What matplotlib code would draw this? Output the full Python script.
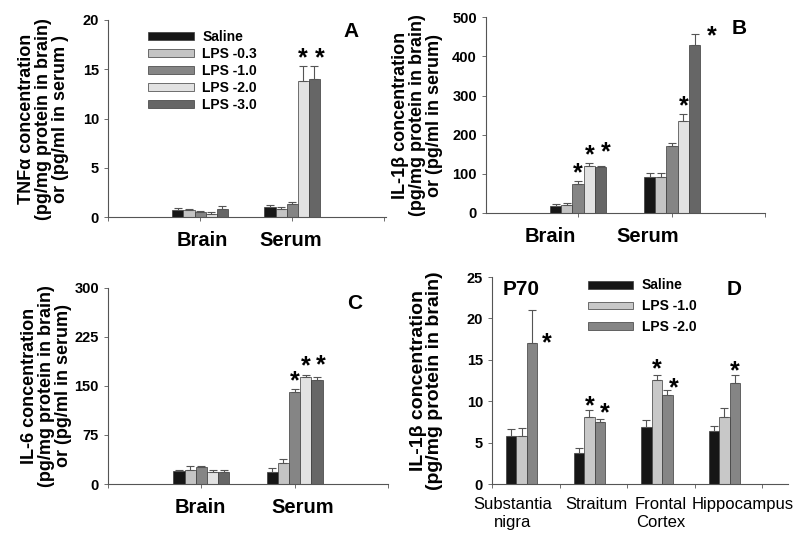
import numpy as np
import matplotlib
matplotlib.use("Agg")
import matplotlib.pyplot as plt

plt.rcParams['font.family'] = ['Liberation Sans', 'DejaVu Sans']
plt.rcParams['font.weight'] = 'bold'

# Dados
groups_abc = ['Brain', 'Serum']
series_abc = ['Saline', 'LPS -0.3', 'LPS -1.0', 'LPS -2.0', 'LPS -3.0']
colors_abc = ['#161616', '#c4c4c4', '#858585', '#e2e2e2', '#666666']

tnf_mean = [[0.75, 1.05], [0.7, 0.85], [0.5, 1.3], [0.35, 13.8], [0.85, 14.0]]
tnf_err = [[0.15, 0.15], [0.15, 0.15], [0.15, 0.2], [0.15, 1.5], [0.3, 1.3]]
tnf_star = [[0, 0], [0, 0], [0, 0], [0, 1], [0, 1]]

il1_mean = [[17, 92], [20, 93], [75, 172], [120, 235], [117, 428]]
il1_err = [[5, 10], [5, 9], [6, 6], [7, 18], [4, 28]]
il1_star = [[0, 0], [0, 0], [1, 0], [1, 1], [1, 1]]

il6_mean = [[20, 19], [22, 32], [26, 141], [19, 163], [19, 159]]
il6_err = [[2, 6], [5, 7], [2, 4], [3, 4], [2, 4]]
il6_star = [[0, 0], [0, 0], [0, 1], [0, 1], [0, 1]]

regions_d = ['Substantia\nnigra', 'Straitum', 'Frontal\nCortex', 'Hippocampus']
series_d = ['Saline', 'LPS -1.0', 'LPS -2.0']
colors_d = ['#161616', '#c8c8c8', '#858585']
p70_mean = [[5.8, 3.8, 6.9, 6.4], [5.8, 8.1, 12.6, 8.1], [17.0, 7.5, 10.8, 12.2]]
p70_err = [[0.8, 0.6, 0.8, 0.6], [1.0, 0.9, 0.6, 1.1], [4.0, 0.4, 0.6, 1.0]]
p70_star = [[0, 0, 0, 0], [0, 1, 1, 0], [1, 1, 1, 1]]

fig = plt.figure(figsize=(8, 5.39), dpi=100)


def draw_bars(ax, centers, means, errs, stars, colors, labels, width, star_off):
    n = len(means)
    for i in range(n):
        x = centers + (i - (n - 1) / 2) * width
        m = np.array(means[i], dtype=float)
        e = np.array(errs[i], dtype=float)
        ax.bar(x, m, width, color=colors[i], edgecolor='#3a3a3a', linewidth=0.5,
               label=labels[i], zorder=2)
        ax.errorbar(x, m, yerr=[np.zeros_like(e), e], fmt='none', ecolor='#555555',
                    elinewidth=0.8, capsize=3, capthick=0.8, zorder=3)
        for j in range(len(m)):
            if stars[i][j]:
                dx, dy = star_off.get((i, j), (0, 15))
                # dy = distancia (px) do centro do asterisco acima da barra de erro
                ax.annotate('*', xy=(x[j], m[j] + e[j]), xytext=(dx, dy - 14),
                            textcoords='offset pixels', ha='center', va='baseline',
                            fontsize=18, fontweight='bold')


def style(ax):
    for s in ['top', 'right']:
        ax.spines[s].set_visible(False)
    ax.spines['left'].set_color('#555555')
    ax.spines['bottom'].set_color('#555555')
    ax.tick_params(axis='both', direction='out', length=3, width=0.6, color='#555555',
                   labelsize=10.5)
    for t in ax.get_yticklabels():
        t.set_fontweight('bold')


centers = np.array([1.0, 2.0])

# A
axA = fig.add_axes([0.135, 0.597, 0.3475, 0.366])
draw_bars(axA, centers, tnf_mean, tnf_err, tnf_star, colors_abc, series_abc, 0.12,
          {(4, 1): (6, 15)})
axA.set_ylim(0, 20)
axA.set_yticks([0, 5, 10, 15, 20])
axA.set_xlim(0.0, 3.02)
axA.set_xticks([0, 1, 2, 3])
axA.set_xticklabels([])
axA.set_ylabel('TNF\u03b1 concentration\n(pg/mg protein in brain)\nor (pg/ml in serum )',
               fontsize=13, fontweight='bold', linespacing=1.0)
axA.yaxis.set_label_coords(-0.142, 0.5)
axA.text(1.02, -0.12, 'Brain', transform=axA.get_xaxis_transform(), ha='center', va='center', fontsize=14.5)
axA.text(1.99, -0.12, 'Serum', transform=axA.get_xaxis_transform(), ha='center', va='center', fontsize=14.5)
axA.text(0.9, 0.99, 'A', transform=axA.transAxes, ha='right', va='top', fontsize=15)
axA.legend(loc='upper left', bbox_to_anchor=(0.11, 1.0), frameon=False,
           handlelength=3.3, handleheight=0.5, labelspacing=0.22, handletextpad=0.6,
           borderpad=0.2, prop={'weight': 'bold', 'size': 10})
style(axA)

# B
axB = fig.add_axes([0.6075, 0.605, 0.349, 0.363])
draw_bars(axB, centers, il1_mean, il1_err, il1_star, colors_abc, series_abc, 0.12,
          {(4, 0): (5, 20), (4, 1): (17, 5)})
axB.set_ylim(0, 500)
axB.set_yticks([0, 100, 200, 300, 400, 500])
axB.set_xlim(0.02, 2.99)
axB.set_xticks([1, 2, 2.99])
axB.set_xticklabels([])
axB.set_ylabel('IL-1\u03b2 concentration\n(pg/mg protein in brain)\nor (pg/ml in serum)',
               fontsize=13, fontweight='bold', linespacing=1.0)
axB.yaxis.set_label_coords(-0.155, 0.5)
axB.text(0.7, -0.12, 'Brain', transform=axB.get_xaxis_transform(), ha='center', va='center', fontsize=14.5)
axB.text(1.74, -0.12, 'Serum', transform=axB.get_xaxis_transform(), ha='center', va='center', fontsize=14.5)
axB.text(0.935, 0.99, 'B', transform=axB.transAxes, ha='right', va='top', fontsize=15)
style(axB)

# C
axC = fig.add_axes([0.135, 0.102, 0.35, 0.364])
draw_bars(axC, centers, il6_mean, il6_err, il6_star, colors_abc, series_abc, 0.12,
          {(4, 1): (4, 19)})
axC.set_ylim(0, 300)
axC.set_yticks([0, 75, 150, 225, 300])
axC.set_xlim(0.0, 3.0)
axC.set_xticks([0, 1, 2, 3])
axC.set_xticklabels([])
axC.set_ylabel('IL-6 concentration\n(pg/mg protein in brain)\nor (pg/ml in serum)',
               fontsize=13, fontweight='bold', linespacing=1.0)
axC.yaxis.set_label_coords(-0.128, 0.5)
axC.text(0.99, -0.12, 'Brain', transform=axC.get_xaxis_transform(), ha='center', va='center', fontsize=14.5)
axC.text(2.09, -0.12, 'Serum', transform=axC.get_xaxis_transform(), ha='center', va='center', fontsize=14.5)
axC.text(0.907, 0.97, 'C', transform=axC.transAxes, ha='right', va='top', fontsize=15)
style(axC)

# D
axD = fig.add_axes([0.615, 0.102, 0.37, 0.384])
dcent = np.arange(len(regions_d)) + 0.44
d_off = {(2, 0): (15, -26), (1, 1): (0, 10), (2, 1): (5, 12), (1, 2): (0, 12),
         (2, 2): (6, 8), (2, 3): (0, 10)}
draw_bars(axD, dcent, p70_mean, p70_err, p70_star, colors_d, series_d, 0.155, d_off)
axD.set_ylim(0, 25)
axD.set_yticks([0, 5, 10, 15, 20, 25])
axD.set_xlim(0, 4.38)
axD.set_xticks([0, 1, 2, 3, 4])
axD.set_xticklabels([])
axD.set_ylabel('IL-1\u03b2 concentration\n(pg/mg protein in brain)',
               fontsize=14, fontweight='bold', linespacing=0.95)
axD.yaxis.set_label_coords(-0.166, 0.5)
label_x = [0.31, 1.55, 2.50, 3.71]
for lx, name in zip(label_x, regions_d):
    axD.text(lx, -0.065, name, transform=axD.get_xaxis_transform(), ha='center', va='top',
             fontsize=12, fontweight='normal', linespacing=1.25)
axD.text(0.1, 0.94, 'P70', transform=axD.transAxes, ha='center', va='center', fontsize=15)
axD.text(0.845, 0.94, 'D', transform=axD.transAxes, ha='right', va='center', fontsize=15)
axD.legend(loc='upper left', bbox_to_anchor=(0.29, 1.04), frameon=False,
           handlelength=3.3, handleheight=0.5, labelspacing=0.5, handletextpad=0.6,
           borderpad=0.2, prop={'weight': 'bold', 'size': 10})
style(axD)

plt.savefig('out.png', dpi=100)
